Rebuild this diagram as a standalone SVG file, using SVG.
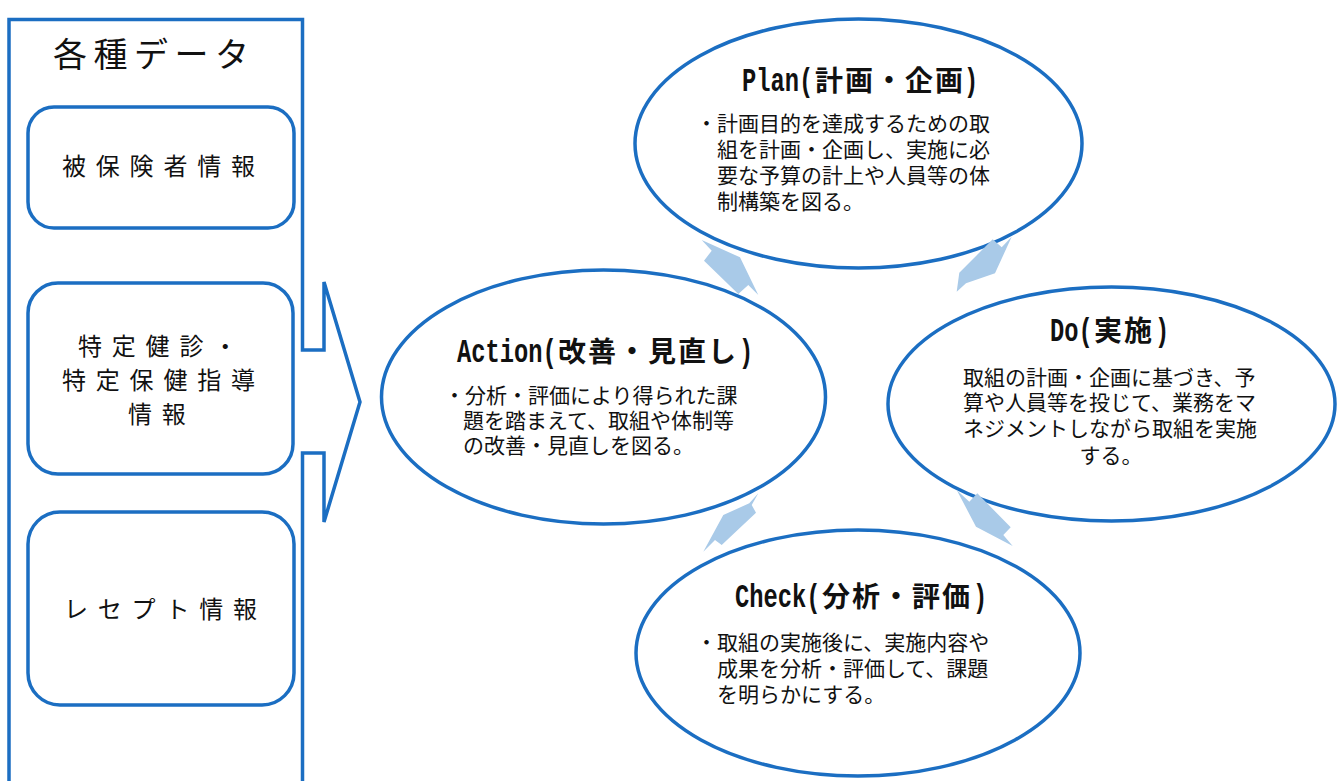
<svg xmlns="http://www.w3.org/2000/svg" width="1339" height="781" viewBox="0 0 1339 781">
<style>
.ln{fill:none;stroke:#1b6ec2;stroke-width:3.5;stroke-linejoin:miter}
.bx{fill:#fff;stroke:#1b6ec2;stroke-width:3.5}
.el{fill:#fff;stroke:#1b6ec2;stroke-width:3.5}
.ar{fill:#a9cae8;stroke:none}
.lb{font-family:"Noto Sans CJK JP","Noto Sans CJK SC",sans-serif;font-size:24px;letter-spacing:9.8px;fill:#111}
.hd{font-family:"Noto Sans CJK JP",sans-serif;font-size:34px;letter-spacing:6.5px;fill:#111}
.tl{font-family:"Liberation Mono",monospace;font-weight:bold;font-size:33px;fill:#111}
.tj{font-family:"Noto Sans CJK JP",sans-serif;font-weight:bold;font-size:28px;letter-spacing:2px;fill:#111}
.bd{font-family:"Noto Sans CJK JP",sans-serif;font-size:21px;fill:#111}
</style>
<rect width="1339" height="781" fill="#fff"/>
<g id="data-panel">
<path class="ln" d="M9 790 L9 19.5 L302.5 19.5 L302.5 350 L324 350 L324 282 L360 402 L324 522 L324 453 L302.5 453 L302.5 790"/>
<text class="hd" x="53" y="67">各種データ</text>
</g>
<g id="box-hihokensha">
<rect class="bx" x="28" y="107" width="266" height="121" rx="26"/>
<text class="lb" x="62" y="175">被保険者情報</text>
</g>
<g id="box-tokutei">
<rect class="bx" x="28" y="283" width="265" height="191" rx="30"/>
<text class="lb" x="78" y="355">特定健診・</text>
<text class="lb" x="62" y="389">特定保健指導</text>
<text class="lb" x="128" y="423">情報</text>
</g>
<g id="box-receipt">
<rect class="bx" x="28" y="512" width="266" height="193" rx="32"/>
<text class="lb" x="64" y="618">レセプト情報</text>
</g>
<g id="plan">
<ellipse class="el" cx="858.5" cy="143.5" rx="223.5" ry="124.5"/>
<text class="tl" x="742" y="91" transform="matrix(0.72 0 0 1 207.76 0)">Plan(</text>
<text class="tj" x="815" y="91">計画・企画</text>
<text class="tl" x="964" y="91" transform="matrix(0.72 0 0 1 269.92 0)">)</text>
<text class="bd" x="696" y="131">・計画目的を達成するための取</text>
<text class="bd" x="717" y="157">組を計画・企画し、実施に必</text>
<text class="bd" x="717" y="183">要な予算の計上や人員等の体</text>
<text class="bd" x="717" y="208.5">制構築を図る。</text>
</g>
<g id="do">
<ellipse class="el" cx="1111.5" cy="404" rx="223.5" ry="117"/>
<text class="tl" x="1050" y="341" transform="matrix(0.72 0 0 1 294 0)">Do(</text>
<text class="tj" x="1094" y="341">実施</text>
<text class="tl" x="1155" y="341" transform="matrix(0.72 0 0 1 323.4 0)">)</text>
<text class="bd" x="963" y="384.5">取組の計画・企画に基づき、予</text>
<text class="bd" x="963" y="410">算や人員等を投じて、業務をマ</text>
<text class="bd" x="963" y="435.5">ネジメントしながら取組を実施</text>
<text class="bd" x="1111" y="463" text-anchor="middle">する。</text>
</g>
<g id="action">
<ellipse class="el" cx="603.5" cy="397" rx="222" ry="127"/>
<text class="tl" x="457" y="362" transform="matrix(0.72 0 0 1 127.96 0)">Action(</text>
<text class="tj" x="558" y="362">改善・見直し</text>
<text class="tl" x="739" y="362" transform="matrix(0.72 0 0 1 206.92 0)">)</text>
<text class="bd" x="444" y="402.5">・分析・評価により得られた課</text>
<text class="bd" x="463" y="428">題を踏まえて、取組や体制等</text>
<text class="bd" x="463" y="453">の改善・見直しを図る。</text>
</g>
<g id="check">
<ellipse class="el" cx="858" cy="653" rx="222" ry="123"/>
<text class="tl" x="735" y="607" transform="matrix(0.72 0 0 1 205.8 0)">Check(</text>
<text class="tj" x="822" y="607">分析・評価</text>
<text class="tl" x="973" y="607" transform="matrix(0.72 0 0 1 272.44 0)">)</text>
<text class="bd" x="696" y="650">・取組の実施後に、実施内容や</text>
<text class="bd" x="717" y="675.5">成果を分析・評価して、課題</text>
<text class="bd" x="717" y="702">を明らかにする。</text>
</g>
<g id="connectors">
<polygon class="ar" points="701.7,240 740,257.3 758.3,295 748.3,285 738.3,294 704,260.7 711.7,250.7"/>
<polygon class="ar" points="992.7,239.3 1001.7,247.3 1011.7,236.7 995,273.3 966,283.3 956.7,291.7 959.3,272.7"/>
<polygon class="ar" points="956.7,490 969.3,501.7 977.3,493.3 1010.7,527.3 1003.3,535 1012.7,546 976,526.7"/>
<polygon class="ar" points="703.3,551.7 715,540 721.7,545 756,512.7 751.7,505 758.3,493.3 749.3,503.3 723.3,515"/>
</g>
</svg>
